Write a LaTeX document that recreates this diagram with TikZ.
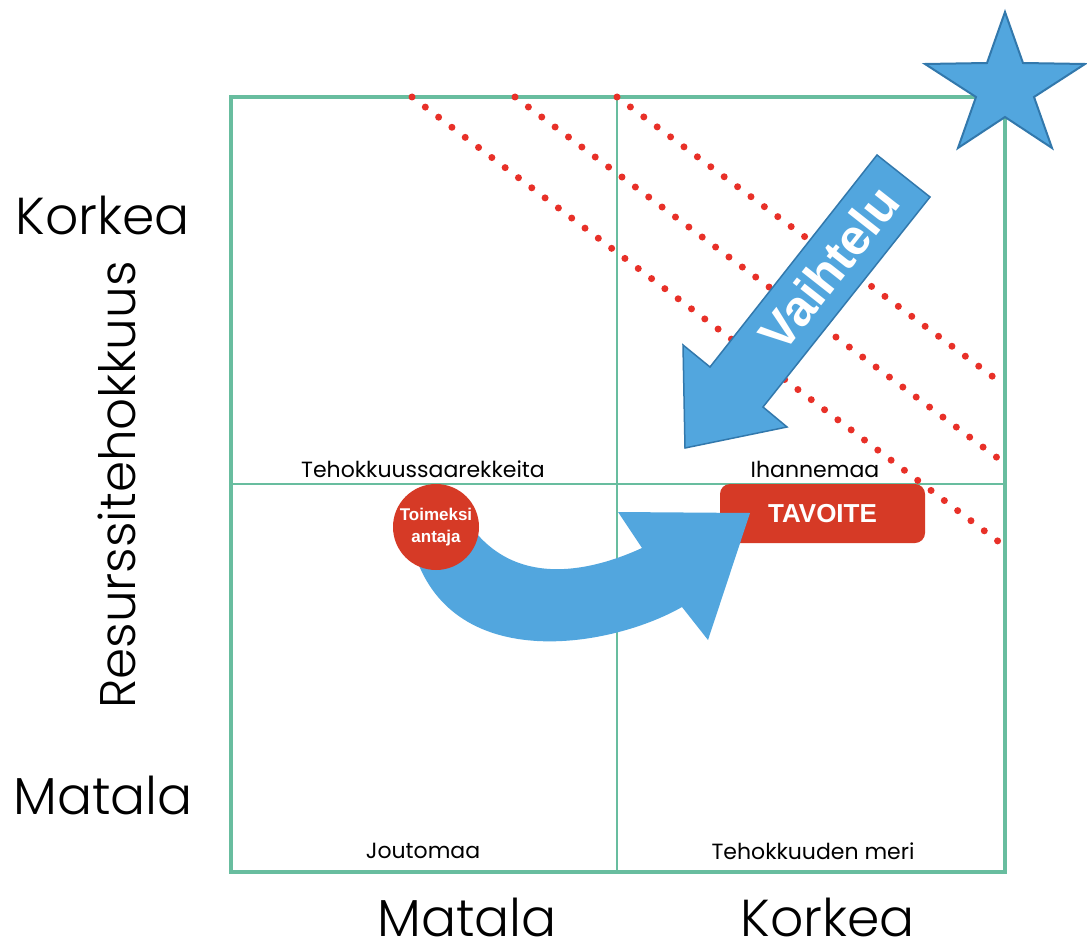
\documentclass[tikz,border=0pt]{standalone}
\usepackage{fontspec}
\setmainfont{Poppins}
\newfontfamily\geolight{Poppins Light}
\newfontfamily\arialfont{Liberation Sans}
\definecolor{gridgreen}{RGB}{104,189,159}
\definecolor{skyblue}{RGB}{82,166,222}
\definecolor{skyedge}{RGB}{50,120,172}
\definecolor{brick}{RGB}{214,58,38}
\definecolor{dotred}{RGB}{232,48,40}

\begin{document}
\begin{tikzpicture}[x=1pt,y=-1pt,
  axislabel/.style={font=\geolight\fontsize{52}{62}\selectfont, inner sep=0},
  zonelabel/.style={font=\fontsize{22}{26}\selectfont, inner sep=0},
  dotline/.style={dotred, line width=7, line cap=round, dash pattern=on 0pt off 16.7pt},
  outerframe/.style={gridgreen, line width=3.5},
  innerline/.style={gridgreen, line width=2.5},
  whitetext/.style={text=white, font=\arialfont\bfseries},
]
\useasboundingbox (0,0) rectangle (1087,947);
\fill[white] (0,0) rectangle (1087,947);

% quadrant grid
\draw[innerline] (617,97) -- (617,872);
\draw[innerline] (231,484) -- (1005,484);
\draw[outerframe] (231,97) rectangle (1005,872);

% axis labels
\node[axislabel] (yhigh) at (103,215) {Korkea};
\node[axislabel] (ylow) at (103,795) {Matala};
\node[axislabel, font=\geolight\fontsize{50}{60}\selectfont, rotate=90]
  (yaxis) at (117,485) {Resurssitehokkuus};
\node[axislabel] (xlow) at (467,917) {Matala};
\node[axislabel] (xhigh) at (828,917) {Korkea};

% quadrant names
\node[zonelabel] (q1) at (423,469) {Tehokkuussaarekkeita};
\node[zonelabel] (q2) at (815,469) {Ihannemaa};
\node[zonelabel] (q3) at (423,851) {Joutomaa};
\node[zonelabel] (q4) at (813,851) {Tehokkuuden meri};

% dotted frontier lines
\draw[dotline] (412,97) -- (1003,545);
\draw[dotline] (515,97) -- (1003,462);
\draw[dotline] (617,97) -- (1000,382);

% star in the top right corner
\draw[fill=skyblue, draw=skyedge, line width=2, line join=miter]
  (1005,12) -- (1023,63) -- (1085,64) -- (1034,97) -- (1052,148)
  -- (1005,117) -- (958,148) -- (976,97) -- (925,64) -- (987,63) -- cycle;

% variation arrow
\draw[fill=skyblue, draw=skyedge, line width=1.5, line join=miter]
  (877,155) -- (930,197) -- (763,407) -- (787,427) -- (685,448)
  -- (683,345) -- (710,367) -- cycle;
\node[whitetext, font=\arialfont\bfseries\fontsize{50}{60}\selectfont, rotate=51.8, inner sep=0]
  (vaihtelu) at (829,268) {Vaihtelu};

% goal box
\node[fill=brick, rounded corners=10, minimum width=205, minimum height=59,
  inner sep=0, whitetext, font=\arialfont\bfseries\fontsize{26}{30}\selectfont]
  (goal) at (822.5,513.5) {TAVOITE};

% curved arrow from the client towards the goal
\fill[skyblue] (415,555) .. controls (455,675) and (612,647) .. (682,607)
  -- (708,640) -- (750,513) -- (618,512) -- (642,548)
  .. controls (605,565) and (520,595) .. (470,525) -- cycle;

% client
\node[circle, fill=brick, minimum size=86, inner sep=0, align=center,
  whitetext, font=\arialfont\bfseries\fontsize{17}{22}\selectfont]
  (client) at (436,527) {Toimeksi\\antaja};
\end{tikzpicture}
\end{document}
